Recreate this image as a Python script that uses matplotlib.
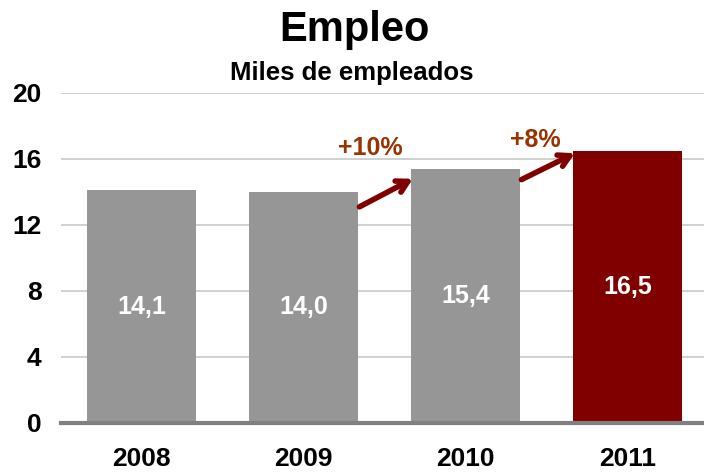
import matplotlib
matplotlib.use("Agg")
import matplotlib.pyplot as plt

plt.rcParams['font.family'] = ['Liberation Sans', 'DejaVu Sans']

years = ["2008", "2009", "2010", "2011"]
values = [14.1, 14.0, 15.4, 16.5]
value_labels = ["14,1", "14,0", "15,4", "16,5"]
growth_labels = ["+10%", "+8%"]
growth_to = [2, 3]
yticks = [0, 4, 8, 12, 16, 20]

bar_colors = ["#969696", "#969696", "#969696", "#800000"]
arrow_color = "#800000"
pct_color = "#993300"

fig = plt.figure(figsize=(7.04, 4.72), dpi=100)
ax = fig.add_axes([61/704, 49/472, (704-61)/704, 330/472])

w = 0.67
x = list(range(len(years)))
ax.bar(x, values, width=w, color=bar_colors, zorder=3)

for xi, v, lab in zip(x, values, value_labels):
    ax.text(xi, v/2, lab, ha='center', va='center', color='white',
            fontsize=18, fontweight='bold', zorder=4)

ax.set_ylim(0, 20)
ax.set_xlim(-0.497, 3.472)
ax.set_yticks(yticks)
ax.set_yticklabels([str(t) for t in yticks])
ax.set_xticks(x)
ax.set_xticklabels(years)
ax.tick_params(axis='both', length=0, labelsize=19)
ax.tick_params(axis='y', pad=14)
ax.tick_params(axis='x', pad=17)
for lbl in ax.get_xticklabels() + ax.get_yticklabels():
    lbl.set_fontweight('bold')

ax.yaxis.grid(True, color='#c8c8c8', linewidth=1.2, zorder=0)
ax.set_axisbelow(True)
for s in ['top', 'right', 'left']:
    ax.spines[s].set_visible(False)
ax.spines['bottom'].set_color('#808080')
ax.spines['bottom'].set_linewidth(3)
ax.spines['bottom'].set_zorder(5)

# growth arrows (layout offsets per annotation)
tail_dy = [-0.9, -0.65]
head_dy = [-0.6, -0.15]
label_dx = [-0.1, -0.08]
label_dy = [1.27, 0.65]
for k, (i, lab) in enumerate(zip(growth_to, growth_labels)):
    x0 = i - 1 + w/2 + 0.01
    y0 = values[i-1] + tail_dy[k]
    x1 = i - w/2 + 0.01
    y1 = values[i] + head_dy[k]
    ax.annotate("", xy=(x1, y1), xytext=(x0, y0),
                arrowprops=dict(arrowstyle="->,head_length=0.8,head_width=0.45",
                                color=arrow_color, lw=4, shrinkA=0, shrinkB=0,
                                capstyle='round', joinstyle='round'),
                zorder=6, annotation_clip=False)
    ax.text((x0 + x1)/2 + label_dx[k], values[i] + label_dy[k], lab,
            ha='center', va='center',
            color=pct_color, fontsize=18, fontweight='bold', zorder=6)

fig.text(354/704, 1 - 30/472, "Empleo", ha='center', va='center',
         fontsize=30, fontweight='bold')
fig.text(352/704, 1 - 73/472, "Miles de empleados", ha='center', va='center',
         fontsize=18.5, fontweight='bold')

fig.savefig("out.png", dpi=100)
